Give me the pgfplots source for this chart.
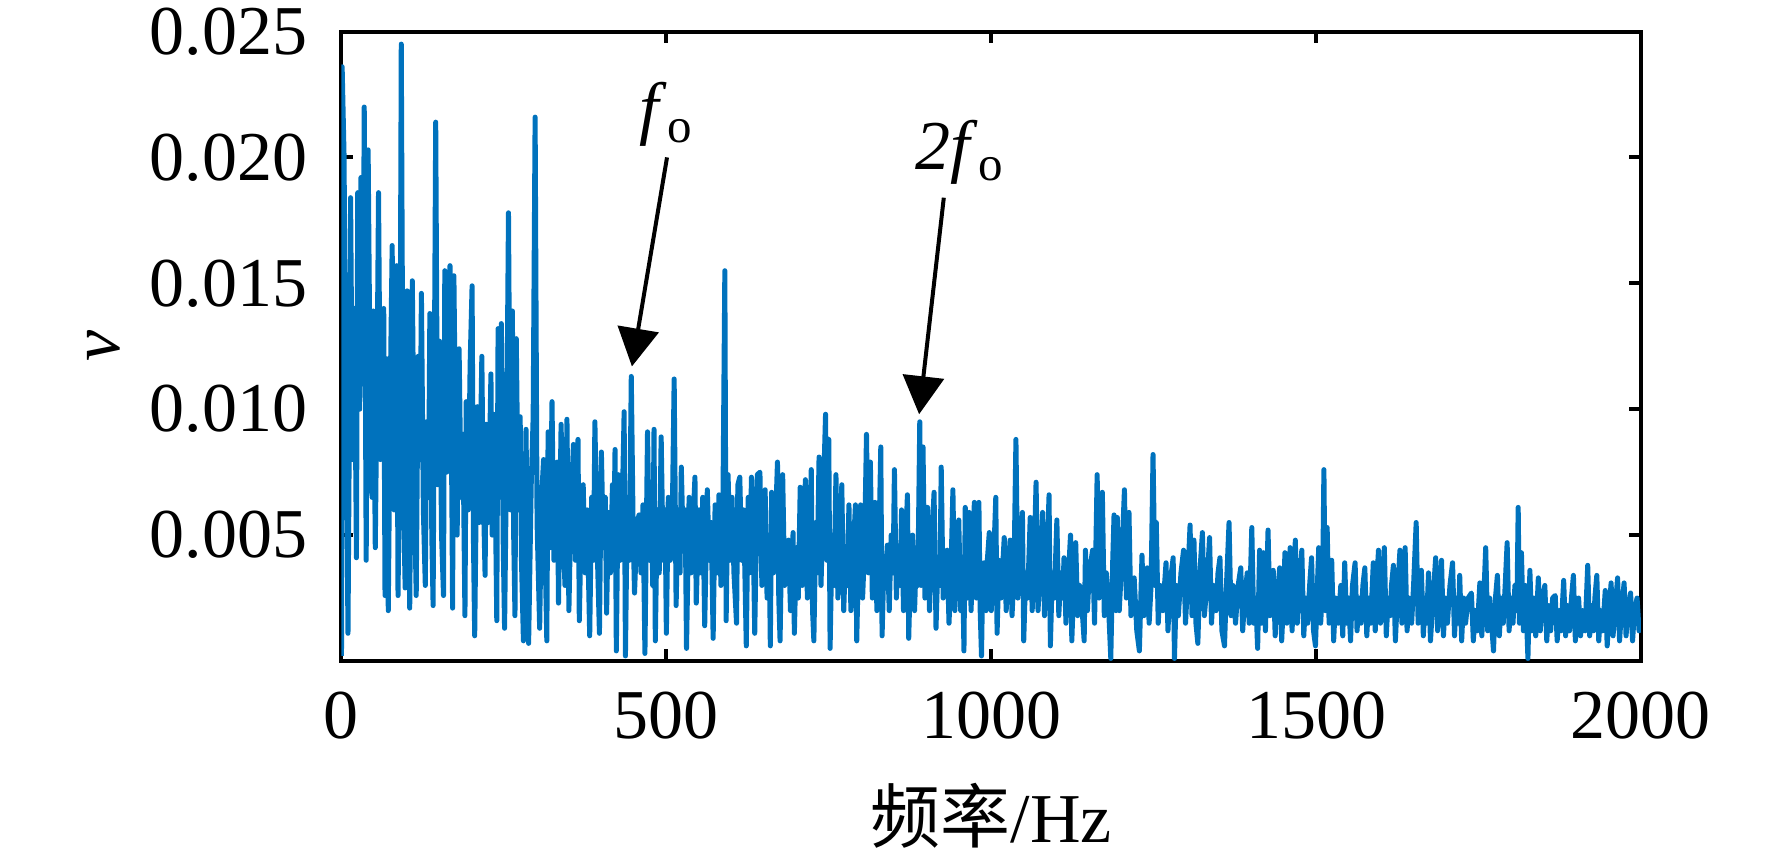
\documentclass[border=0pt]{standalone}
\usepackage{fontspec}
\setmainfont{Liberation Serif}
\newfontfamily\cjk{Noto Sans CJK SC}
\usepackage{pgfplots}
\pgfplotsset{compat=1.18}
\usetikzlibrary{arrows.meta}
\definecolor{mblue}{RGB}{0,114,189}
\begin{document}
\fontsize{14pt}{16.8pt}\selectfont
\begin{tikzpicture}
\begin{axis}[
  scale only axis, width=259.9pt, height=125.9pt,
  xmin=0, xmax=2000, ymin=0, ymax=0.025,
  xtick={0,500,1000,1500,2000},
  ytick={0.005,0.010,0.015,0.020,0.025},
  scaled y ticks=false, scaled x ticks=false,
  /pgf/number format/assume math mode=true,
  /pgf/number format/set thousands separator={},
  yticklabel style={/pgf/number format/.cd, fixed, fixed zerofill, precision=3, /tikz/.cd, xshift=-2pt},
  xticklabel style={yshift=-1.4pt},
  tick align=inside, major tick length=2.3pt,
  every tick/.style={black, line width=0.8pt},
  axis line style={line width=0.8pt},
  xlabel={{\cjk 频率}/Hz},
  ylabel={\textit{v}},
  xlabel style={at={(axis description cs:0.5,0)}, anchor=center, yshift=-31pt},
  ylabel style={at={(axis description cs:0,0.5)}, anchor=center, yshift=47.5pt},
]
\addplot[mblue, line width=1.0pt, line join=round] coordinates {
(0,0.0002)(1,0.0236)(4,0.0200)(6,0.0110)(8,0.0070)(10,0.0011)(12,0.0090)(14,0.0184)(17,0.0080)(20,0.0140)(23,0.0041)(25,0.0186)(28,0.0100)(30,0.0192)(33,0.0110)(35,0.0220)(38,0.0040)(41,0.0203)(44,0.0110)(47,0.0065)(49,0.0139)(52,0.0045)(55,0.0120)(57,0.0186)(60,0.0080)(62,0.0125)(65,0.0140)(67,0.0026)(70,0.0120)(72,0.0020)(75,0.0105)(78,0.0165)(81,0.0060)(85,0.0157)(87,0.0026)(90,0.0095)(92,0.0245)(95,0.0070)(98,0.0029)
(101,0.0147)(105,0.0021)(109,0.0151)(112,0.0070)(115,0.0026)(118,0.0121)(121,0.0080)(123,0.0146)(126,0.0060)(129,0.0030)(131,0.0095)(134,0.0065)(136,0.0138)(139,0.0050)(141,0.0022)(145,0.0214)(148,0.0070)(151,0.0127)(154,0.0050)(157,0.0026)(159,0.0155)(162,0.0075)(165,0.0110)(167,0.0157)(170,0.0060)(171,0.0021)(173,0.0153)(176,0.0080)(178,0.0050)(181,0.0124)(184,0.0065)(187,0.0090)(190,0.0018)(192,0.0103)(195,0.0060)(198,0.0118)
(201,0.0149)(203,0.0050)(205,0.0010)(209,0.0101)(212,0.0055)(216,0.0121)(218,0.0070)(221,0.0034)(223,0.0094)(226,0.0055)(230,0.0114)(232,0.0050)(234,0.0098)(237,0.0060)(239,0.0016)(241,0.0132)(243,0.0065)(246,0.0134)(249,0.0045)(251,0.0013)(254,0.0080)(257,0.0178)(260,0.0060)(263,0.0139)(265,0.0050)(267,0.0018)(269,0.0128)(272,0.0060)(275,0.0097)(277,0.0040)(280,0.0008)(284,0.0092)(286,0.0045)(288,0.0007)(292,0.0070)(295,0.0097)(298,0.0216)(301,0.0055)
(305,0.0013)(308,0.0065)(311,0.0080)(314,0.0035)(316,0.0008)(318,0.0091)(321,0.0045)(324,0.0103)(327,0.0040)(330,0.0070)(332,0.0079)(334,0.0023)(338,0.0094)(341,0.0050)(344,0.0030)(347,0.0096)(350,0.0020)(353,0.0060)(357,0.0086)(360,0.0040)(364,0.0088)(366,0.0016)(369,0.0055)(372,0.0070)(375,0.0035)(378,0.0060)(382,0.0010)(385,0.0065)(388,0.0040)(390,0.0095)(393,0.0050)(397,0.0011)(400,0.0083)
(403,0.0045)(406,0.0065)(408,0.0019)(411,0.0059)(414,0.0035)(417,0.0070)(419,0.0045)(421,0.0084)(423,0.0004)(426,0.0074)(429,0.0040)(432,0.0060)(435,0.0099)(437,0.0002)(440,0.0065)(443,0.0040)(446,0.0113)(449,0.0050)(451,0.0027)(455,0.0055)(458,0.0058)(461,0.0035)(464,0.0062)(467,0.0003)(471,0.0091)(474,0.0040)(477,0.0065)(479,0.0030)(481,0.0092)(483,0.0008)(486,0.0060)(489,0.0035)(492,0.0089)(495,0.0040)(498,0.0060)(500,0.0011)
(503,0.0065)(506,0.0040)(509,0.0055)(512,0.0112)(515,0.0022)(518,0.0060)(521,0.0035)(523,0.0077)(526,0.0045)(529,0.0060)(531,0.0005)(535,0.0065)(538,0.0035)(541,0.0055)(544,0.0073)(546,0.0023)(550,0.0060)(553,0.0035)(556,0.0065)(559,0.0014)(563,0.0068)(566,0.0040)(569,0.0055)(572,0.0009)(575,0.0062)(578,0.0035)(581,0.0066)(584,0.0030)(587,0.0060)(590,0.0155)(592,0.0016)(595,0.0074)(598,0.0040)
(601,0.0065)(604,0.0035)(608,0.0015)(610,0.0070)(613,0.0073)(616,0.0040)(619,0.0060)(623,0.0006)(626,0.0065)(628,0.0035)(631,0.0073)(634,0.0045)(636,0.0011)(640,0.0074)(644,0.0075)(647,0.0030)(650,0.0060)(652,0.0068)(655,0.0025)(658,0.0050)(660,0.0006)(662,0.0067)(665,0.0035)(668,0.0055)(671,0.0079)(673,0.0025)(675,0.0008)(679,0.0074)(682,0.0030)(685,0.0045)(688,0.0048)(691,0.0020)(695,0.0051)(697,0.0011)(700,0.0045)
(703,0.0025)(706,0.0069)(709,0.0030)(711,0.0050)(714,0.0072)(717,0.0025)(720,0.0045)(723,0.0076)(725,0.0020)(727,0.0008)(730,0.0055)(732,0.0035)(735,0.0081)(738,0.0030)(741,0.0060)(745,0.0098)(747,0.0040)(750,0.0088)(752,0.0005)(755,0.0050)(758,0.0030)(761,0.0074)(764,0.0025)(767,0.0045)(770,0.0070)(773,0.0020)(776,0.0045)(778,0.0030)(781,0.0062)(784,0.0020)(787,0.0040)(791,0.0062)(793,0.0008)(796,0.0045)(799,0.0062)
(802,0.0025)(805,0.0045)(808,0.0090)(811,0.0035)(814,0.0079)(817,0.0025)(821,0.0063)(824,0.0020)(827,0.0045)(830,0.0085)(832,0.0010)(835,0.0040)(838,0.0030)(840,0.0046)(843,0.0020)(846,0.0050)(849,0.0035)(851,0.0076)(854,0.0025)(857,0.0045)(860,0.0030)(862,0.0060)(865,0.0020)(868,0.0045)(871,0.0066)(873,0.0009)(876,0.0040)(879,0.0050)(882,0.0020)(885,0.0045)(887,0.0030)(890,0.0095)(892,0.0030)(895,0.0085)(898,0.0025)
(902,0.0061)(905,0.0020)(908,0.0045)(912,0.0067)(915,0.0013)(918,0.0040)(921,0.0030)(923,0.0077)(926,0.0025)(929,0.0040)(932,0.0044)(935,0.0015)(938,0.0035)(941,0.0068)(944,0.0020)(947,0.0040)(950,0.0056)(953,0.0020)(956,0.0035)(958,0.0004)(960,0.0061)(963,0.0025)(966,0.0059)(969,0.0020)(971,0.0040)(974,0.0063)(977,0.0025)(981,0.0063)(983,0.0020)(985,0.0002)(987,0.0035)(989,0.0039)(992,0.0020)(994,0.0040)(997,0.0051)(1000,0.0020)
(1003,0.0035)(1007,0.0065)(1009,0.0011)(1012,0.0040)(1015,0.0025)(1020,0.0049)(1023,0.0020)(1026,0.0035)(1029,0.0048)(1032,0.0018)(1035,0.0035)(1038,0.0088)(1041,0.0025)(1044,0.0040)(1048,0.0059)(1050,0.0008)(1053,0.0035)(1056,0.0025)(1060,0.0057)(1063,0.0020)(1066,0.0040)(1069,0.0071)(1072,0.0020)(1075,0.0035)(1079,0.0059)(1082,0.0018)(1085,0.0035)(1089,0.0066)(1091,0.0006)(1094,0.0035)(1097,0.0025)
(1101,0.0056)(1104,0.0018)(1107,0.0035)(1110,0.0025)(1112,0.0041)(1115,0.0015)(1118,0.0030)(1122,0.0050)(1124,0.0008)(1127,0.0030)(1130,0.0047)(1133,0.0018)(1136,0.0030)(1140,0.0020)(1143,0.0008)(1145,0.0044)(1148,0.0020)(1151,0.0035)(1156,0.0044)(1159,0.0015)(1163,0.0074)(1166,0.0025)(1168,0.0035)(1171,0.0067)(1174,0.0018)(1177,0.0035)(1180,0.0025)(1184,0.0001)(1187,0.0040)(1189,0.0058)(1192,0.0020)(1194,0.0057)(1197,0.0020)(1200,0.0035)
(1205,0.0068)(1208,0.0025)(1212,0.0059)(1215,0.0018)(1218,0.0030)(1220,0.0033)(1224,0.0012)(1228,0.0004)(1232,0.0042)(1235,0.0018)(1237,0.0030)(1240,0.0037)(1243,0.0015)(1246,0.0030)(1249,0.0082)(1252,0.0030)(1254,0.0055)(1257,0.0015)(1260,0.0030)(1264,0.0020)(1269,0.0039)(1272,0.0012)(1275,0.0030)(1280,0.0041)(1282,0.0001)(1285,0.0030)(1288,0.0018)(1292,0.0035)(1296,0.0044)(1299,0.0015)
(1302,0.0030)(1306,0.0054)(1309,0.0018)(1312,0.0048)(1315,0.0015)(1318,0.0007)(1321,0.0035)(1325,0.0051)(1328,0.0018)(1332,0.0030)(1336,0.0049)(1339,0.0015)(1342,0.0030)(1346,0.0020)(1349,0.0035)(1352,0.0041)(1355,0.0012)(1359,0.0006)(1362,0.0030)(1366,0.0055)(1369,0.0018)(1372,0.0030)(1376,0.0015)(1380,0.0030)(1384,0.0037)(1387,0.0012)(1390,0.0025)(1394,0.0035)(1397,0.0015)
(1401,0.0053)(1404,0.0015)(1407,0.0025)(1410,0.0005)(1413,0.0044)(1416,0.0015)(1419,0.0043)(1422,0.0012)(1426,0.0052)(1429,0.0018)(1431,0.0030)(1434,0.0036)(1437,0.0010)(1440,0.0025)(1444,0.0037)(1447,0.0008)(1450,0.0025)(1452,0.0043)(1455,0.0015)(1458,0.0030)(1460,0.0045)(1463,0.0012)(1465,0.0025)(1468,0.0048)(1471,0.0015)(1474,0.0030)(1478,0.0044)(1481,0.0010)(1484,0.0025)(1487,0.0015)(1490,0.0030)(1493,0.0041)(1496,0.0012)(1499,0.0006)
(1502,0.0030)(1504,0.0045)(1507,0.0015)(1510,0.0030)(1512,0.0076)(1514,0.0020)(1517,0.0053)(1520,0.0015)(1524,0.0040)(1527,0.0008)(1530,0.0025)(1534,0.0015)(1538,0.0030)(1541,0.0010)(1544,0.0039)(1547,0.0015)(1550,0.0025)(1553,0.0008)(1556,0.0030)(1560,0.0039)(1563,0.0012)(1566,0.0025)(1569,0.0015)(1572,0.0030)(1575,0.0037)(1578,0.0010)(1581,0.0025)(1584,0.0015)(1588,0.0039)(1591,0.0012)(1593,0.0030)(1596,0.0044)(1599,0.0015)
(1602,0.0025)(1605,0.0045)(1608,0.0010)(1611,0.0025)(1614,0.0018)(1616,0.0030)(1619,0.0038)(1622,0.0008)(1625,0.0025)(1629,0.0044)(1632,0.0015)(1635,0.0030)(1637,0.0045)(1640,0.0012)(1643,0.0025)(1647,0.0015)(1650,0.0030)(1654,0.0055)(1657,0.0015)(1659,0.0025)(1662,0.0036)(1665,0.0010)(1668,0.0025)(1670,0.0015)(1673,0.0035)(1676,0.0008)(1680,0.0025)(1684,0.0041)(1687,0.0012)(1690,0.0025)(1693,0.0040)(1696,0.0010)(1699,0.0025)
(1702,0.0015)(1706,0.0030)(1710,0.0039)(1713,0.0010)(1716,0.0025)(1719,0.0015)(1721,0.0034)(1724,0.0008)(1727,0.0025)(1730,0.0015)(1734,0.0025)(1739,0.0027)(1742,0.0008)(1745,0.0020)(1748,0.0012)(1752,0.0031)(1755,0.0010)(1758,0.0025)(1761,0.0045)(1764,0.0012)(1767,0.0025)(1770,0.0015)(1773,0.0004)(1776,0.0025)(1779,0.0034)(1782,0.0010)(1785,0.0025)(1788,0.0015)(1791,0.0030)(1794,0.0047)(1797,0.0012)(1800,0.0025)
(1803,0.0015)(1806,0.0030)(1809,0.0020)(1811,0.0061)(1813,0.0015)(1816,0.0043)(1819,0.0012)(1822,0.0030)(1826,0.0001)(1829,0.0036)(1832,0.0012)(1835,0.0025)(1838,0.0010)(1842,0.0033)(1845,0.0012)(1848,0.0025)(1852,0.0030)(1855,0.0008)(1858,0.0022)(1861,0.0012)(1864,0.0025)(1868,0.0026)(1871,0.0008)(1874,0.0020)(1877,0.0012)(1881,0.0032)(1884,0.0010)(1887,0.0022)(1890,0.0012)(1893,0.0025)(1896,0.0034)(1899,0.0008)
(1902,0.0020)(1904,0.0025)(1907,0.0010)(1910,0.0020)(1914,0.0012)(1918,0.0038)(1921,0.0010)(1924,0.0022)(1927,0.0012)(1929,0.0025)(1932,0.0034)(1935,0.0008)(1938,0.0020)(1941,0.0012)(1945,0.0028)(1948,0.0006)(1951,0.0020)(1954,0.0031)(1957,0.0010)(1960,0.0020)(1964,0.0033)(1967,0.0008)(1970,0.0020)(1974,0.0031)(1977,0.0010)(1980,0.0020)(1984,0.0027)(1987,0.0008)(1990,0.0020)(1994,0.0025)(1997,0.0012)(2000,0.0015)
};
\draw[black, line width=0.8pt, -{Triangle[length=7.6pt,width=8.2pt]}] (axis cs:501,0.0200) -- (axis cs:447,0.0117);
\node[anchor=center] at (axis cs:501,0.0217) {\textit{f}\textsubscript{o}};
\draw[black, line width=0.8pt, -{Triangle[length=7.6pt,width=8.2pt]}] (axis cs:927,0.0184) -- (axis cs:889,0.0098);
\node[anchor=center] at (axis cs:953,0.0202) {\textit{2f}\textsubscript{o}};
\end{axis}
\pgfresetboundingbox
\path[use as bounding box] (-68.3pt,-38.8pt) rectangle (286.1pt,132.2pt);
\end{tikzpicture}
\end{document}
